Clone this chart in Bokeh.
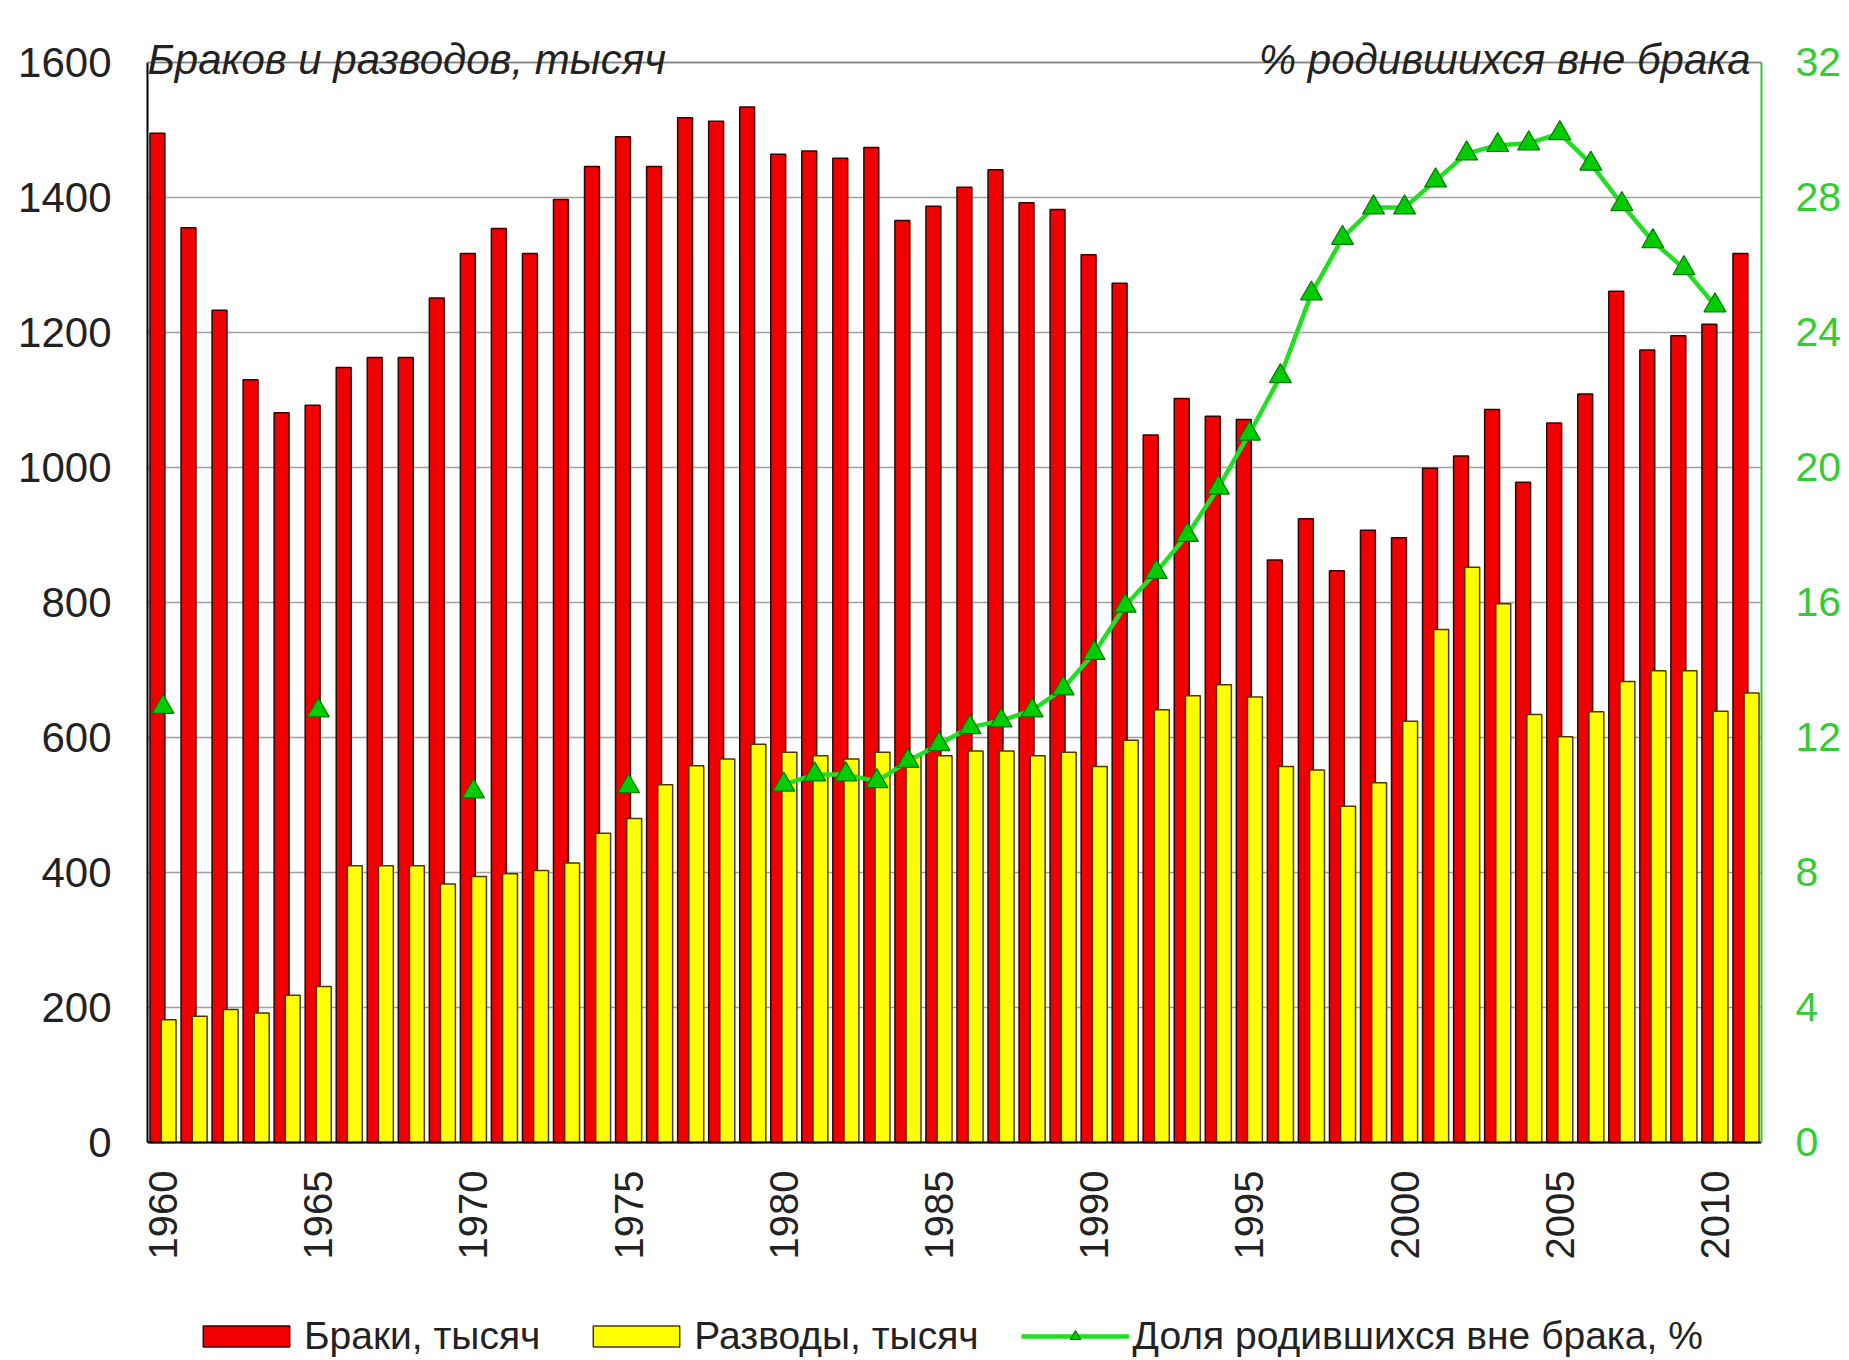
import math
from bokeh.plotting import figure
from bokeh.models import (ColumnDataSource, Range1d, LinearAxis, FixedTicker,
                          Label, Legend, LegendItem, Span)
from bokeh.transform import dodge
from bokeh.embed import file_html
from bokeh.resources import INLINE

NaN = float("nan")

years = list(range(1960, 2012))
marriages = [1495, 1355, 1233, 1130, 1081, 1092, 1148, 1163, 1163, 1251,
             1317, 1354, 1317, 1397, 1446, 1490, 1446, 1518, 1513, 1534,
             1464, 1469, 1458, 1474, 1366, 1387, 1415, 1441, 1392, 1382,
             1315, 1273, 1048, 1102, 1076, 1071, 863, 924, 847, 907,
             896, 999, 1017, 1086, 978, 1066, 1109, 1261, 1174, 1195,
             1212, 1317]
divorces = [182, 187, 197, 192, 218, 231, 410, 410, 410, 383,
            394, 398, 403, 414, 458, 480, 530, 558, 568, 590,
            578, 573, 568, 578, 573, 573, 580, 580, 573, 578,
            557, 596, 641, 662, 678, 660, 557, 552, 498, 533,
            624, 760, 852, 798, 634, 601, 638, 683, 699, 699,
            639, 666]
out_of_wedlock = [12.9, NaN, NaN, NaN, NaN, 12.8, NaN, NaN, NaN, NaN,
                  10.4, NaN, NaN, NaN, NaN, 10.55, NaN, NaN, NaN, NaN,
                  10.6, 10.9, 10.9, 10.7, 11.3, 11.8, 12.3, 12.5, 12.8, 13.45,
                  14.5, 15.9, 16.9, 18.0, 19.4, 21.0, 22.7, 25.15, 26.8, 27.7,
                  27.7, 28.5, 29.3, 29.55, 29.6, 29.9, 29.0, 27.8, 26.7, 25.9,
                  24.8, NaN]

left_ticks = [0, 200, 400, 600, 800, 1000, 1200, 1400, 1600]
right_ticks = [0, 4, 8, 12, 16, 20, 24, 28, 32]
year_ticks = [1960, 1965, 1970, 1975, 1980, 1985, 1990, 1995, 2000, 2005, 2010]

title_left = "Браков и разводов, тысяч"
title_right = "% родившихся вне брака"
label_m = "Браки, тысяч"
label_d = "Разводы, тысяч"
label_p = "Доля родившихся вне брака, %"

src = ColumnDataSource(dict(year=years, marriages=marriages,
                            divorces=divorces, pct=out_of_wedlock))

FONT = "Liberation Sans"
W, H = 1845, 1358

# frame spans from the titles (top) down to the legend (bottom);
# the value axes themselves are bounded to 0..1600 and 0..32
p = figure(width=W, height=H, output_backend="svg", toolbar_location=None,
           x_range=Range1d(1959.5, 2011.5), y_range=Range1d(-320, 1674),
           min_border_left=147, min_border_right=W - 1761, min_border_top=12,
           min_border_bottom=0)
p.extra_y_ranges = {"pct": Range1d(-6.4, 33.48)}

p.background_fill_color = "white"
p.border_fill_color = "white"
p.outline_line_color = None

p.xgrid.grid_line_color = None
p.ygrid.grid_line_color = "#A0A0A0"
p.ygrid.grid_line_width = 1.5
p.ygrid.ticker = FixedTicker(ticks=left_ticks)

p.add_layout(Span(location=1600, dimension="width", line_color="#808080",
                  line_width=1.5))

r_red = p.vbar(x=dodge("year", -0.18), width=0.48, top="marriages", bottom=0,
               source=src, fill_color="#F00000", line_color="#3A0000",
               line_width=1.5)
r_yel = p.vbar(x=dodge("year", 0.18), width=0.48, top="divorces", bottom=0,
               source=src, fill_color="#FFFF00", line_color="#4A3A00",
               line_width=1.5)
r_line = p.line(x="year", y="pct", source=src, y_range_name="pct",
                line_color="#22DD22", line_width=4.5)
r_pts = p.scatter(x="year", y="pct", source=src, y_range_name="pct",
                  marker="triangle", size=22, fill_color="#00CC00",
                  line_color="#007700", line_width=1.2)

# left axis
ya = p.yaxis[0]
ya.ticker = FixedTicker(ticks=left_ticks)
ya.bounds = (0, 1600)
ya.axis_line_color = "black"
ya.axis_line_width = 2
ya.major_tick_line_color = None
ya.minor_tick_line_color = None
ya.major_label_standoff = 30
ya.major_label_text_font = FONT
ya.major_label_text_font_size = "42px"
ya.major_label_text_color = "#222222"

# bottom axis, pinned at zero
xa = p.xaxis[0]
xa.fixed_location = 0
xa.ticker = FixedTicker(ticks=year_ticks)
xa.axis_line_color = "black"
xa.axis_line_width = 2
xa.major_tick_line_color = None
xa.minor_tick_line_color = None
xa.major_label_orientation = math.pi / 2
xa.major_label_standoff = 22
xa.major_label_text_font = FONT
xa.major_label_text_font_size = "40px"
xa.major_label_text_color = "#222222"

# right axis
ra = LinearAxis(y_range_name="pct", ticker=FixedTicker(ticks=right_ticks),
                bounds=(0, 32))
ra.axis_line_color = "#33CC33"
ra.axis_line_width = 2
ra.major_tick_line_color = None
ra.minor_tick_line_color = None
ra.major_label_standoff = 28
ra.major_label_text_font = FONT
ra.major_label_text_font_size = "41px"
ra.major_label_text_color = "#33CC33"
p.add_layout(ra, "right")

# titles above the value area
p.add_layout(Label(x=1959.5, y=1600, text=title_left, text_font=FONT,
                   text_font_style="italic", text_font_size="42px",
                   text_color="#222222", text_align="left",
                   text_baseline="alphabetic", y_offset=3))
p.add_layout(Label(x=2011.5, y=1600, text=title_right, text_font=FONT,
                   text_font_style="italic", text_font_size="42px",
                   text_color="#222222", text_align="right",
                   text_baseline="alphabetic", y_offset=3, x_offset=-11))

legend = Legend(items=[LegendItem(label=label_m, renderers=[r_red]),
                       LegendItem(label=label_d, renderers=[r_yel]),
                       LegendItem(label=label_p, renderers=[r_line, r_pts])],
                orientation="horizontal", location=(45, 0),
                glyph_width=108, glyph_height=26, label_standoff=4,
                spacing=42, padding=0, margin=0, border_line_color=None,
                background_fill_alpha=0, label_text_font=FONT,
                label_text_font_size="39px", label_text_color="#222222")
p.add_layout(legend, "center")

open("out.html", "w").write(file_html(p, INLINE))
